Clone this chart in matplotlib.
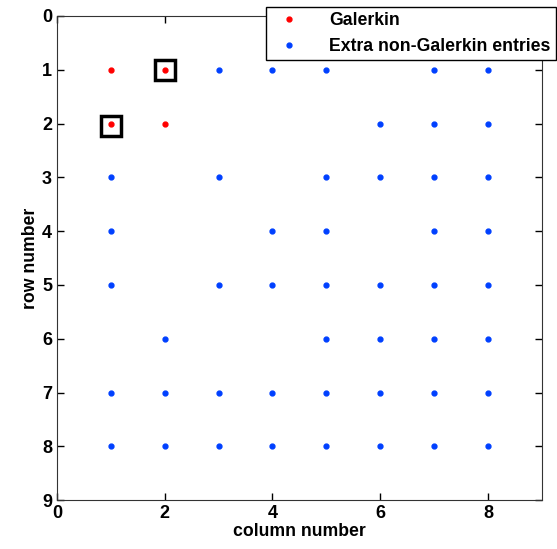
import matplotlib
matplotlib.use("Agg")
import matplotlib.pyplot as plt

# sparsity pattern: (column, row)
galerkin_cols = [1, 2, 1, 2]
galerkin_rows = [1, 1, 2, 2]

extra_cols = [3, 4, 5, 7, 8,
              6, 7, 8,
              1, 3, 5, 6, 7, 8,
              1, 4, 5, 7, 8,
              1, 3, 4, 5, 6, 7, 8,
              2, 5, 6, 7, 8,
              1, 2, 3, 4, 5, 6, 7, 8,
              1, 2, 3, 4, 5, 6, 7, 8]
extra_rows = [1] * 5 + [2] * 3 + [3] * 6 + [4] * 5 + [5] * 7 + [6] * 5 + [7] * 8 + [8] * 8

boxed_cols = [2, 1]
boxed_rows = [1, 2.04]

plt.rcParams['font.family'] = ['Liberation Sans', 'DejaVu Sans']
plt.rcParams['font.weight'] = 'bold'

fig = plt.figure(figsize=(5.57, 5.49), dpi=100)
ax = fig.add_axes([0.102, 0.089, 0.871, 0.882])

ax.plot(galerkin_cols, galerkin_rows, '.', color='#ff0000', markersize=7, label='Galerkin')
ax.plot(extra_cols, extra_rows, '.', color='#0040ff', markersize=7, label='Extra non-Galerkin entries')
ax.plot(boxed_cols, boxed_rows, 's', markersize=15, markerfacecolor='none',
        markeredgecolor='black', markeredgewidth=2.5)

ax.set_xlim(0, 9)
ax.set_ylim(9, 0)
ax.set_xticks([0, 2, 4, 6, 8])
ax.set_yticks(range(10))
ax.tick_params(direction='in', top=True, right=True, labelsize=13, length=5, width=1)
for lab in ax.get_xticklabels() + ax.get_yticklabels():
    lab.set_fontweight('bold')
for s in ax.spines.values():
    s.set_color('#333333')
ax.set_xlabel('column number', fontsize=12.7, fontweight='bold', labelpad=1)
ax.set_ylabel('row number', fontsize=12.7, fontweight='bold', labelpad=2)

leg = ax.legend(loc='upper right', bbox_to_anchor=(0.998, 0.988), bbox_transform=fig.transFigure,
                fancybox=False, framealpha=1, edgecolor='black', fontsize=12.7,
                borderaxespad=0, handletextpad=1.3, borderpad=0.3, labelspacing=0.5)
leg.get_frame().set_linewidth(1)
for t in leg.get_texts():
    t.set_fontweight('bold')

fig.savefig('out.png', dpi=100)
